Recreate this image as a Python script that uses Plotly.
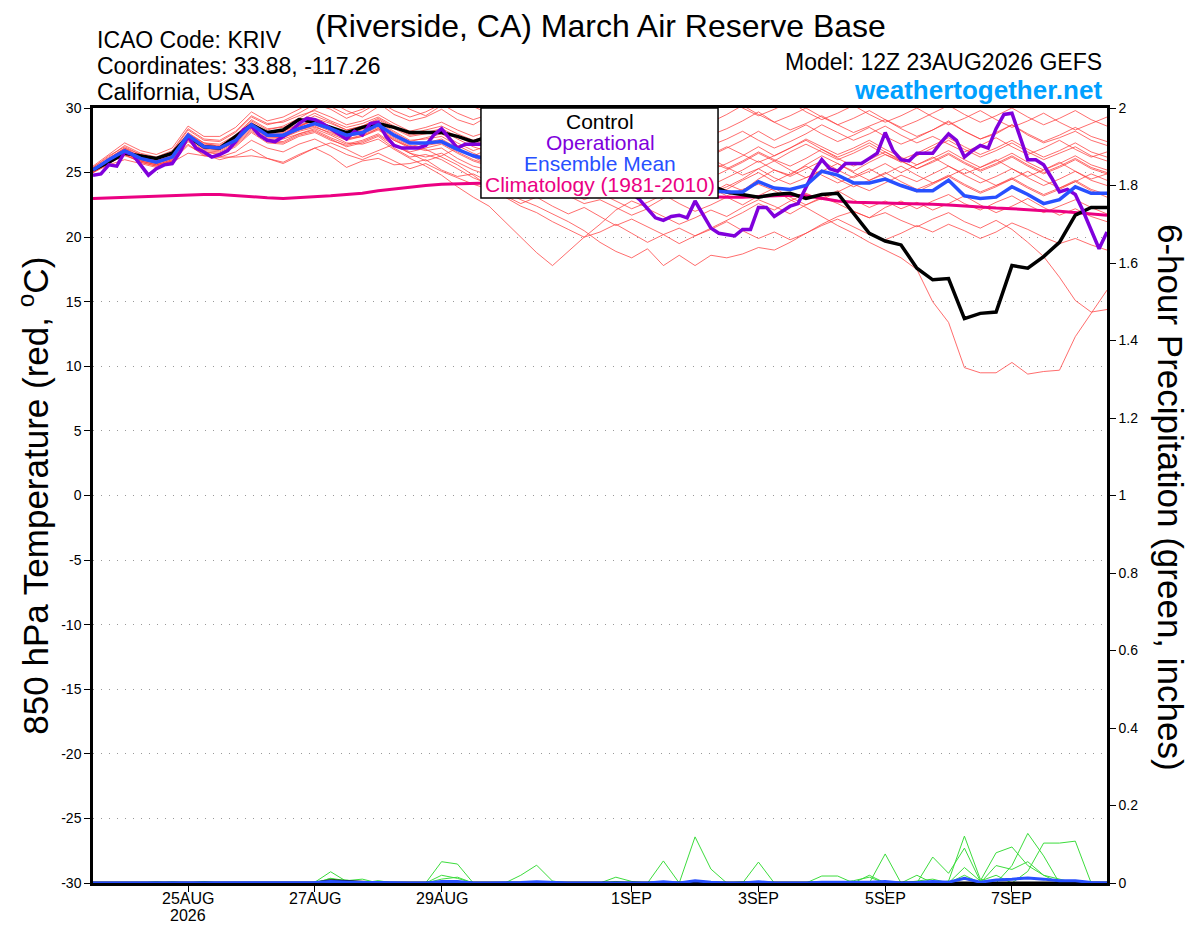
import pandas as pd
import plotly.graph_objects as go

FONT = "Liberation Sans, Arial, sans-serif"
RUN_START = "2026-08-23 12:00"
N_6H = 65
N_3H = 129

tick_dates = ["2026-08-25", "2026-08-27", "2026-08-29", "2026-09-01",
              "2026-09-03", "2026-09-05", "2026-09-07"]
tick_text = ["25AUG", "27AUG", "29AUG", "1SEP", "3SEP", "5SEP", "7SEP"]
year_label = "2026"

temp_ticks = [30, 25, 20, 15, 10, 5, 0, -5, -10, -15, -20, -25, -30]
precip_ticks = [0, 0.2, 0.4, 0.6, 0.8, 1, 1.2, 1.4, 1.6, 1.8, 2]

# 850 hPa temperature (C), 6-hourly
control_t850 = [
    25.2, 25.8, 26.5, 26.3, 26.1, 26.5, 27.8, 27.0, 26.9, 27.8, 28.7, 28.1, 28.3,
    29.1, 28.9, 28.5, 28.1, 28.5, 28.8, 28.5, 28.1, 28.1, 28.1, 27.8, 27.4, 27.8,
    27.5, 27.2, 26.8, 26.5, 26.1, 25.7, 25.3, 25.0, 24.7, 24.4, 24.6, 24.3, 24.1,
    24.0, 23.5, 23.3, 23.1, 23.3, 23.4, 23.0, 23.3, 23.4, 21.9, 20.3, 19.7, 19.4,
    17.6, 16.7, 16.8, 13.7, 14.1, 14.2, 17.8, 17.6, 18.5, 19.6, 21.7, 22.3, 22.3,
]
mean_t850 = [
    25.2, 26.0, 26.7, 26.1, 25.8, 26.2, 27.9, 27.0, 26.9, 27.5, 28.7, 27.9, 27.9,
    28.4, 28.8, 28.4, 27.9, 28.1, 28.7, 27.9, 27.3, 27.3, 27.4, 26.8, 26.3, 26.0,
    25.8, 25.6, 25.3, 25.0, 24.8, 24.6, 24.3, 24.0, 23.8, 23.9, 23.7, 23.6, 23.8,
    23.6, 23.5, 23.5, 24.3, 23.8, 23.7, 24.0, 25.1, 24.8, 24.2, 24.2, 24.5, 24.0,
    23.6, 23.6, 24.4, 23.2, 23.0, 23.1, 23.9, 23.3, 22.6, 22.9, 23.9, 23.4, 23.4,
]
clim_t850 = [
    23.0, 23.05, 23.1, 23.1, 23.15, 23.2, 23.25, 23.3, 23.3, 23.2, 23.1, 23.05, 23.0,
    23.05, 23.1, 23.2, 23.3, 23.4, 23.6, 23.75, 23.9, 24.0, 24.1, 24.15, 24.2, 24.2,
    24.15, 24.1, 24.0, 23.9, 23.8, 23.7, 23.6, 23.5, 23.4, 23.3, 23.25, 23.2, 23.15,
    23.1, 23.1, 23.1, 23.15, 23.2, 23.25, 23.2, 23.0, 22.8, 22.7, 22.7, 22.65, 22.6,
    22.6, 22.55, 22.5, 22.4, 22.3, 22.25, 22.2, 22.1, 22.05, 22.0, 21.9, 21.8, 21.7,
]

# operational run, 3-hourly
oper_t850 = [
    24.8, 24.9, 25.6, 25.5, 26.6, 26.4, 25.6, 24.8,
    25.3, 25.6, 25.7, 26.6, 27.8, 26.9, 26.6, 26.2,
    26.4, 26.7, 27.4, 28.3, 28.6, 27.9, 27.5, 27.4,
    27.8, 28.2, 28.8, 29.2, 29.1, 28.8, 28.4, 28.0,
    27.6, 28.2, 27.9, 28.8, 28.9, 27.8, 27.1, 26.9,
    26.9, 26.9, 27.1, 27.9, 28.4, 27.6, 26.9, 27.2,
    27.2, 27.2, 27.0, 26.8, 27.1, 26.6, 26.3, 26.5,
    26.0, 25.7, 25.9, 25.4, 25.0, 25.2, 24.8, 24.5,
    24.6, 24.1, 23.8, 23.9, 23.4, 22.9, 22.2, 21.5,
    21.3, 21.6, 21.7, 21.5, 22.8, 21.7, 20.7, 20.3,
    20.2, 20.1, 20.6, 20.6, 22.3, 22.3, 21.6, 22.0,
    22.4, 22.6, 23.9, 25.1, 26.0, 25.3, 25.1, 25.7,
    25.7, 25.7, 26.1, 26.5, 28.1, 26.7, 26.0, 25.9,
    26.5, 26.5, 26.5, 27.3, 28.0, 27.5, 26.2, 26.7,
    27.1, 26.9, 28.4, 29.5, 29.6, 27.8, 26.0, 26.0,
    25.6, 24.6, 23.5, 23.7, 23.3, 22.0, 20.6, 19.1,
    20.4,
]

# ensemble members, 6-hourly
m01 = [
    25.4, 26.3, 27.0, 26.4, 26.1, 26.6, 28.3, 27.5, 27.4, 28.1, 29.3, 28.7, 29.0,
    29.6, 30.3, 29.9, 29.2, 29.7, 30.4, 29.5, 29.0, 29.3, 29.9, 29.1, 28.7, 29.4,
    28.9, 28.3, 29.0, 29.6, 28.8, 28.2, 28.9, 29.5, 28.7, 28.0, 28.5, 29.2, 28.6,
    27.9, 28.4, 29.0, 29.7, 28.9, 28.3, 28.8, 29.4, 28.7, 28.1, 28.6, 29.1, 28.4,
    27.8, 28.3, 29.0, 28.2, 27.6, 28.0, 28.7, 27.9, 27.3, 27.7, 28.2, 27.5, 27.1,
]
m02 = [
    25.2, 26.1, 26.8, 26.2, 25.9, 26.4, 28.0, 27.2, 27.1, 27.8, 29.0, 28.3, 28.6,
    29.2, 29.9, 30.5, 29.8, 29.3, 30.1, 30.6, 29.9, 29.4, 30.2, 30.8, 30.1, 29.6,
    30.3, 30.9, 30.2, 29.5, 30.0, 30.6, 29.8, 29.2, 29.7, 30.3, 29.6, 29.0, 29.5,
    30.1, 30.7, 30.0, 29.4, 29.9, 30.5, 29.7, 29.1, 29.6, 30.2, 29.5, 28.9, 29.4,
    30.0, 29.3, 28.7, 29.2, 29.8, 29.1, 28.5, 29.0, 29.6, 28.9, 28.3, 28.8, 29.3,
]
m03 = [
    25.1, 25.9, 26.6, 26.0, 25.7, 26.1, 27.7, 26.8, 26.7, 27.3, 28.4, 27.6, 27.6,
    28.0, 28.4, 27.9, 27.3, 27.2, 27.6, 26.8, 26.1, 25.5, 24.8, 23.9, 23.1, 22.4,
    21.2, 20.0, 18.8, 17.8, 18.9, 20.0, 21.0, 22.1, 22.8, 22.3, 23.0, 23.6, 23.1,
    23.4, 24.1, 23.6, 24.5, 25.2, 24.8, 25.6, 26.3, 25.7, 25.1, 25.8, 26.4, 25.9,
    25.3, 25.9, 26.5, 25.8, 25.2, 25.7, 26.3, 25.6, 25.0, 25.5, 26.1, 25.4, 25.0,
]
m04 = [
    25.0, 25.8, 26.5, 25.9, 25.6, 26.0, 27.5, 26.6, 26.5, 27.1, 28.2, 27.4, 27.3,
    27.9, 28.2, 27.6, 27.0, 27.3, 27.8, 26.9, 26.2, 26.4, 26.0, 25.3, 24.6, 24.1,
    23.5, 22.9, 22.4, 21.8, 21.2, 20.5, 19.6, 18.9, 18.4, 19.1, 17.8, 18.6, 17.8,
    18.6, 18.4, 18.7, 19.2, 19.0, 19.6, 20.3, 21.0, 21.6, 22.0, 21.5, 22.3, 22.8,
    22.2, 22.8, 23.3, 22.6, 22.1, 22.7, 23.2, 22.5, 21.9, 22.4, 22.9, 22.3, 21.8,
]
m05 = [
    25.3, 26.0, 26.8, 26.2, 25.9, 26.3, 27.9, 27.1, 26.9, 27.6, 28.8, 28.0, 28.1,
    28.6, 29.1, 28.5, 28.0, 28.3, 28.9, 28.2, 27.5, 27.6, 27.8, 27.1, 26.5, 26.0,
    25.4, 24.9, 25.3, 25.8, 24.9, 24.2, 23.8, 24.3, 24.9, 24.1, 23.5, 23.9, 24.4,
    23.8, 23.2, 23.7, 24.1, 23.6, 22.9, 22.3, 21.6, 20.9, 20.3, 19.6, 19.0, 18.4,
    17.5, 15.0, 13.4, 9.9, 9.5, 9.5, 10.3, 9.4, 9.6, 9.7, 12.3, 14.1, 15.9,
]
m06 = [
    25.2, 25.9, 26.6, 26.0, 25.8, 26.2, 27.8, 26.9, 26.8, 27.4, 28.6, 27.8, 27.7,
    28.2, 28.5, 28.1, 27.6, 27.8, 28.4, 27.5, 27.0, 26.7, 26.9, 26.1, 25.5, 25.2,
    24.6, 24.0, 23.5, 23.9, 23.2, 22.6, 22.9, 22.3, 21.7, 22.2, 21.6, 21.0, 21.5,
    22.1, 21.6, 22.3, 22.9, 22.4, 21.8, 22.5, 23.1, 22.6, 22.0, 21.5, 21.9, 21.3,
    20.8, 21.4, 21.9, 21.2, 20.7, 21.3, 20.6, 19.6, 18.5, 16.9, 15.1, 14.2, 14.4,
]
m07 = [
    25.1, 25.7, 26.4, 25.8, 25.5, 25.9, 27.2, 26.3, 26.2, 26.6, 27.5, 26.9, 26.6,
    27.2, 27.6, 27.0, 26.4, 26.0, 26.5, 25.9, 25.3, 25.7, 25.1, 24.6, 24.1, 23.7,
    23.2, 22.6, 23.1, 22.4, 21.8, 22.3, 21.6, 20.9, 21.4, 20.8, 20.2, 20.7, 20.1,
    20.6, 21.2, 20.5, 19.9, 20.4, 19.8, 20.3, 20.9, 21.4, 20.8, 20.2, 19.8, 20.3,
    20.9, 20.4, 21.0, 20.5, 19.9, 20.4, 21.1, 20.6, 20.0, 19.5, 19.9, 19.4, 19.0,
]
m08 = [
    25.3, 26.1, 26.9, 26.4, 26.0, 26.5, 28.1, 27.3, 27.0, 27.7, 28.9, 28.1, 28.2,
    28.7, 29.0, 28.3, 27.8, 28.0, 28.5, 27.7, 27.1, 26.8, 26.2, 25.6, 24.8, 23.9,
    23.1, 22.4, 21.9, 21.2, 20.6, 20.0, 20.4, 21.0, 20.3, 19.6, 20.2, 19.5, 20.1,
    20.7, 21.3, 21.9, 22.6, 22.1, 22.8, 23.4, 22.9, 23.5, 24.1, 23.6, 24.2, 24.8,
    24.3, 24.9, 25.5, 24.8, 24.2, 24.7, 25.3, 24.6, 24.0, 24.5, 25.1, 24.4, 24.0,
]
m09 = [
    25.2, 26.0, 26.7, 26.1, 25.7, 26.2, 27.9, 27.0, 26.8, 27.5, 28.6, 27.8, 27.9,
    28.5, 29.2, 28.8, 28.3, 28.6, 29.1, 28.4, 27.8, 28.0, 28.3, 27.6, 27.0, 26.6,
    26.1, 25.5, 25.9, 26.4, 25.7, 25.1, 25.6, 26.2, 25.4, 24.8, 25.3, 25.9, 25.2,
    24.6, 25.2, 25.8, 26.5, 25.9, 26.6, 27.2, 26.6, 26.0, 26.5, 27.1, 26.4, 25.8,
    26.3, 26.9, 27.5, 26.8, 26.2, 26.7, 27.3, 26.6, 26.0, 26.5, 27.0, 26.3, 25.9,
]
m10 = [
    25.0, 25.7, 26.4, 25.8, 25.5, 25.9, 27.4, 26.6, 26.4, 27.0, 28.1, 27.3, 27.2,
    27.8, 28.1, 27.5, 27.1, 27.4, 27.9, 27.1, 26.5, 26.2, 26.5, 25.8, 25.2, 24.8,
    24.3, 23.7, 24.2, 24.8, 24.1, 23.5, 24.0, 24.6, 23.9, 23.3, 23.8, 24.4, 23.7,
    23.1, 23.7, 24.4, 25.0, 24.3, 24.9, 25.5, 24.8, 24.2, 24.7, 25.3, 24.6, 24.0,
    23.5, 24.1, 24.7, 24.0, 23.4, 23.9, 24.5, 23.8, 23.2, 23.7, 24.3, 23.6, 23.1,
]
m11 = [
    25.4, 26.2, 27.1, 26.5, 26.2, 26.7, 28.4, 27.6, 27.5, 28.2, 29.4, 28.8, 28.9,
    29.4, 29.8, 29.3, 28.7, 29.0, 29.5, 28.8, 28.2, 28.5, 28.9, 28.3, 27.8, 28.2,
    27.6, 27.0, 27.5, 28.1, 27.4, 26.8, 27.3, 27.9, 27.1, 26.5, 27.0, 27.6, 26.9,
    26.3, 26.9, 27.5, 28.2, 27.5, 28.1, 28.7, 28.0, 27.4, 27.9, 28.5, 27.8, 27.2,
    27.7, 28.3, 28.9, 28.2, 27.6, 28.1, 28.7, 28.0, 27.4, 27.9, 28.5, 27.8, 27.4,
]
m12 = [
    25.1, 25.8, 26.5, 25.9, 25.6, 26.0, 27.6, 26.7, 26.6, 27.2, 28.3, 27.5, 27.4,
    28.0, 28.3, 27.7, 27.2, 27.5, 28.0, 27.2, 26.6, 26.9, 27.2, 26.5, 25.9, 25.5,
    25.0, 24.4, 24.9, 25.5, 24.7, 24.0, 24.5, 25.1, 24.3, 23.6, 24.1, 24.7, 24.0,
    23.4, 23.9, 24.5, 25.3, 24.6, 24.1, 24.6, 25.2, 24.5, 23.9, 24.4, 25.0, 24.3,
    23.7, 24.2, 24.8, 24.1, 23.5, 24.0, 24.6, 23.9, 23.3, 23.8, 24.4, 23.7, 23.3,
]
m13 = [
    25.0, 25.6, 26.0, 25.7, 25.4, 25.8, 26.5, 26.3, 26.2, 26.2, 26.3, 26.1, 25.8,
    26.4, 26.9, 26.3, 25.4, 25.9, 26.1, 25.6, 25.7, 26.0, 25.2, 24.7, 24.9, 24.3,
    23.9, 23.2, 23.7, 24.3, 23.6, 22.9, 23.4, 22.8, 22.2, 22.7, 23.3, 22.6, 22.0,
    22.5, 23.1, 22.5, 23.2, 23.8, 23.1, 22.5, 23.0, 23.6, 22.9, 22.3, 22.8, 22.2,
    22.7, 22.1, 22.6, 23.2, 22.5, 21.9, 22.4, 23.0, 22.3, 21.7, 22.2, 21.6, 21.2,
]
m14 = [
    25.3, 26.0, 26.8, 26.3, 26.0, 26.4, 28.0, 27.3, 27.2, 27.9, 29.1, 28.4, 28.5,
    29.0, 29.6, 29.0, 28.5, 28.8, 29.3, 28.6, 28.0, 28.3, 28.6, 28.0, 27.5, 27.9,
    28.4, 27.8, 27.2, 27.7, 28.3, 27.6, 27.0, 27.5, 28.1, 27.3, 26.7, 27.2, 27.8,
    27.1, 27.6, 28.2, 27.5, 26.9, 27.4, 28.0, 28.7, 28.1, 27.5, 28.0, 28.6, 27.9,
    27.3, 27.8, 27.2, 26.6, 27.1, 27.7, 27.0, 26.4, 26.9, 27.5, 26.8, 26.2, 26.6,
]
m15 = [
    25.2, 25.9, 26.6, 26.0, 25.7, 26.1, 27.7, 26.9, 26.8, 27.4, 28.5, 27.7, 27.7,
    28.3, 28.7, 28.2, 27.6, 27.9, 28.4, 27.6, 27.0, 27.3, 27.6, 26.9, 26.3, 26.8,
    26.3, 27.0, 27.6, 26.9, 26.3, 26.8, 27.4, 26.7, 26.1, 26.6, 27.2, 26.5, 25.9,
    26.4, 27.0, 26.4, 25.8, 26.3, 26.9, 27.6, 27.0, 26.4, 26.9, 27.5, 26.8, 26.2,
    25.6, 26.1, 26.7, 26.0, 25.4, 25.9, 26.5, 25.8, 25.2, 25.7, 26.3, 25.6, 25.2,
]
m16 = [
    25.5, 26.4, 27.3, 26.7, 26.4, 26.9, 28.6, 27.8, 27.8, 28.5, 29.7, 29.0, 29.3,
    29.9, 30.6, 30.1, 29.5, 29.9, 30.5, 29.8, 29.3, 29.7, 30.3, 29.6, 29.1, 29.5,
    29.0, 28.4, 28.9, 29.5, 28.8, 28.2, 28.7, 29.3, 28.5, 27.9, 28.4, 29.0, 28.3,
    28.9, 29.5, 30.2, 29.5, 28.9, 29.4, 30.0, 29.3, 28.7, 29.2, 29.8, 29.1, 28.5,
    29.0, 29.6, 30.2, 29.5, 28.9, 29.4, 30.0, 29.3, 28.7, 29.2, 29.8, 29.1, 28.6,
]
m17 = [
    25.1, 25.8, 26.3, 25.9, 25.6, 25.9, 27.1, 26.4, 26.0, 26.3, 26.8, 26.1, 25.7,
    26.3, 26.9, 27.3, 26.8, 26.2, 26.7, 27.2, 26.5, 25.9, 26.3, 26.9, 26.2, 25.6,
    26.1, 26.7, 26.0, 25.4, 25.9, 26.5, 25.8, 25.2, 25.7, 26.3, 25.6, 25.0, 25.5,
    26.1, 25.4, 24.8, 25.3, 25.9, 25.2, 24.6, 25.1, 25.7, 25.0, 24.4, 24.9, 25.5,
    24.8, 24.2, 24.7, 25.3, 24.6, 24.0, 24.5, 25.1, 24.4, 23.8, 24.3, 24.9, 24.4,
]
m18 = [
    25.2, 26.1, 26.9, 26.2, 25.9, 26.3, 27.9, 27.1, 27.0, 27.6, 28.8, 28.1, 28.2,
    28.8, 29.4, 28.9, 28.3, 28.6, 29.2, 28.5, 27.9, 28.1, 28.4, 27.8, 27.2, 27.6,
    27.1, 26.5, 27.0, 27.6, 26.9, 26.3, 26.8, 27.4, 26.6, 26.0, 26.5, 27.1, 26.4,
    25.8, 25.3, 25.9, 26.6, 26.0, 25.5, 26.1, 26.8, 26.1, 25.5, 26.0, 26.6, 25.9,
    25.3, 25.8, 26.4, 25.7, 25.1, 25.6, 26.2, 25.5, 24.9, 25.4, 26.0, 25.3, 24.9,
]
m19 = [
    25.3, 26.0, 26.7, 26.1, 25.8, 26.2, 27.8, 27.0, 26.9, 27.5, 28.7, 27.9, 28.0,
    28.6, 29.0, 28.4, 27.9, 28.2, 28.8, 28.1, 27.4, 27.7, 28.0, 27.3, 26.7, 27.1,
    26.6, 26.0, 26.5, 27.1, 26.3, 25.7, 26.2, 26.8, 26.0, 25.4, 25.9, 26.5, 25.8,
    25.2, 25.7, 26.3, 27.0, 26.3, 26.9, 27.5, 26.8, 26.2, 26.7, 27.3, 26.6, 26.0,
    26.5, 27.1, 27.7, 27.0, 26.4, 26.9, 27.5, 26.8, 26.2, 26.7, 27.3, 26.6, 26.2,
]
m20 = [
    25.2, 25.9, 26.7, 26.1, 25.8, 26.2, 27.8, 26.9, 26.8, 27.4, 28.6, 27.8, 27.8,
    28.3, 28.6, 28.0, 27.5, 27.8, 28.3, 27.5, 26.9, 27.1, 27.3, 26.6, 26.0, 25.6,
    25.1, 25.6, 26.2, 25.5, 24.9, 25.4, 26.0, 25.3, 24.7, 25.2, 25.8, 25.1, 24.5,
    24.0, 24.6, 25.2, 25.9, 25.2, 24.7, 25.3, 25.9, 25.2, 24.6, 25.1, 25.7, 25.0,
    25.6, 26.2, 25.5, 24.9, 25.4, 26.0, 25.3, 24.7, 25.2, 25.8, 25.1, 24.5, 24.9,
]
member_t850 = [m01, m02, m03, m04, m05, m06, m07, m08, m09, m10,
               m11, m12, m13, m14, m15, m16, m17, m18, m19, m20]

# 6-hour precipitation (inches), 6-hourly
p01 = [
    0, 0, 0, 0, 0, 0, 0, 0, 0, 0, 0, 0, 0,
    0, 0.002, 0.029, 0.004, 0, 0, 0, 0, 0, 0.055, 0.049, 0, 0,
    0, 0, 0, 0, 0, 0, 0, 0, 0, 0, 0, 0, 0.119,
    0.036, 0, 0, 0, 0, 0, 0, 0, 0, 0, 0, 0.075, 0,
    0, 0, 0.005, 0.121, 0.01, 0, 0.045, 0.128, 0.07, 0, 0, 0, 0,
]
p02 = [
    0, 0, 0, 0, 0, 0.003, 0, 0.004, 0, 0, 0, 0, 0,
    0, 0, 0.012, 0.006, 0.01, 0, 0, 0, 0, 0.02, 0.012, 0, 0,
    0, 0.02, 0.046, 0.005, 0, 0, 0, 0, 0, 0, 0.057, 0, 0,
    0, 0, 0, 0.054, 0, 0, 0, 0, 0, 0, 0, 0, 0,
    0, 0.067, 0.025, 0.09, 0.005, 0.078, 0.093, 0.045, 0.02, 0, 0, 0, 0,
]
p03 = [
    0, 0, 0, 0, 0, 0, 0, 0, 0, 0, 0, 0, 0,
    0, 0, 0.005, 0.008, 0, 0.006, 0, 0, 0, 0.01, 0.015, 0, 0,
    0, 0, 0, 0, 0, 0, 0, 0.015, 0.004, 0, 0, 0, 0,
    0, 0, 0, 0, 0, 0, 0, 0.018, 0.018, 0, 0.02, 0, 0,
    0.02, 0, 0, 0.04, 0.005, 0.02, 0, 0.03, 0.103, 0.103, 0.108, 0, 0,
]
p04 = [
    0, 0, 0, 0, 0.003, 0, 0, 0, 0, 0, 0, 0, 0,
    0, 0, 0.012, 0, 0, 0.004, 0, 0, 0, 0, 0, 0, 0,
    0, 0, 0, 0, 0, 0, 0, 0.004, 0, 0, 0, 0, 0,
    0, 0, 0.003, 0, 0, 0, 0, 0, 0, 0.006, 0.015, 0, 0,
    0.005, 0.01, 0, 0.02, 0, 0.045, 0.035, 0.055, 0.02, 0.01, 0, 0, 0,
]
member_precip = [p01, p02, p03, p04]

mean_precip = [
    0, 0, 0, 0, 0, 0.001, 0, 0.001, 0, 0, 0, 0, 0,
    0, 0.001, 0.004, 0.002, 0.001, 0.001, 0, 0, 0, 0.004, 0.004, 0, 0,
    0, 0.001, 0.003, 0.001, 0, 0, 0, 0.001, 0, 0, 0.003, 0, 0.006,
    0.002, 0, 0, 0.003, 0, 0, 0, 0.002, 0.002, 0.001, 0.002, 0.004, 0,
    0.001, 0.004, 0.002, 0.012, 0.002, 0.008, 0.01, 0.013, 0.01, 0.006, 0.006, 0.001, 0,
]
control_precip = [
    0, 0, 0, 0, 0, 0, 0, 0, 0, 0, 0, 0, 0,
    0, 0, 0.006, 0.004, 0.002, 0, 0, 0, 0, 0, 0, 0, 0,
    0, 0, 0, 0, 0, 0, 0, 0, 0, 0, 0, 0, 0,
    0, 0, 0, 0, 0, 0, 0, 0, 0, 0, 0, 0, 0,
    0, 0, 0, 0, 0, 0, 0, 0, 0, 0, 0, 0, 0,
]

RED = "rgba(255,60,60,0.75)"
GREEN = "rgb(60,220,60)"
BLACK = "black"
PURPLE = "rgb(128,0,220)"
BLUE = "rgb(40,80,255)"
MAGENTA = "rgb(235,0,130)"
WEB_BLUE = "rgb(0,160,255)"

times6 = pd.date_range(RUN_START, periods=N_6H, freq="6h")
times3 = pd.date_range(RUN_START, periods=N_3H, freq="3h")

fig = go.Figure()

for member in member_t850:
    fig.add_trace(go.Scatter(x=times6, y=member, mode="lines",
                             line=dict(color=RED, width=1), hoverinfo="skip"))

fig.add_trace(go.Scatter(x=times6, y=clim_t850, mode="lines",
                         line=dict(color=MAGENTA, width=3)))
fig.add_trace(go.Scatter(x=times6, y=control_t850, mode="lines",
                         line=dict(color=BLACK, width=3.5)))
fig.add_trace(go.Scatter(x=times3, y=oper_t850, mode="lines",
                         line=dict(color=PURPLE, width=3.5)))
fig.add_trace(go.Scatter(x=times6, y=mean_t850, mode="lines",
                         line=dict(color=BLUE, width=3.5)))

for member in member_precip:
    fig.add_trace(go.Scatter(x=times6, y=member, mode="lines", yaxis="y2",
                             line=dict(color=GREEN, width=1), hoverinfo="skip"))
fig.add_trace(go.Scatter(x=times6, y=control_precip, mode="lines", yaxis="y2",
                         line=dict(color=BLACK, width=3)))
fig.add_trace(go.Scatter(x=times6, y=mean_precip, mode="lines", yaxis="y2",
                         line=dict(color=BLUE, width=3)))

axis_common = dict(showline=True, linecolor="black", linewidth=2.5, automargin=False,
                   ticks="outside", ticklen=6, tickcolor="black", tickwidth=1,
                   zeroline=False, tickfont=dict(family=FONT, size=14, color="black"))

# page body adds an 8px offset, so the figure is 8px smaller than the window
fig.update_layout(
    width=1192, height=919,
    margin=dict(l=85, r=93, t=100, b=44),
    paper_bgcolor="white", plot_bgcolor="white",
    showlegend=False,
    font=dict(family=FONT, color="black"),
    xaxis=dict(range=[times6[0], times6[-1]], tickvals=tick_dates,
               showticklabels=False, showgrid=False, mirror=True, **axis_common),
    yaxis=dict(range=[-30, 30], tickvals=temp_ticks,
               ticktext=[str(t) for t in temp_ticks],
               showgrid=True, gridcolor="#999999", gridwidth=1, griddash="1px,7px",
               **axis_common),
    yaxis2=dict(range=[0, 2], overlaying="y", side="right", tickvals=precip_ticks,
                ticktext=[f"{p:g}" for p in precip_ticks], showgrid=False, **axis_common),
)

# date labels under the ticks, year under the first one
for date, label in zip(tick_dates, tick_text):
    fig.add_annotation(text=label, x=date, y=-0.0194, xref="x", yref="paper",
                       xanchor="center", yanchor="middle", showarrow=False,
                       font=dict(family=FONT, size=16, color="black"))
fig.add_annotation(text=year_label, x=tick_dates[0], y=-0.0413, xref="x", yref="paper",
                   xanchor="center", yanchor="middle", showarrow=False,
                   font=dict(family=FONT, size=16, color="black"))

# legend box drawn over the lines
fig.add_shape(type="rect", xref="paper", yref="paper",
              x0=0.3826, x1=0.6164, y0=0.8839, y1=1.0,
              fillcolor="white", line=dict(color="black", width=1.5), layer="above")

legend_items = [("Control", BLACK, 0.983), ("Operational", PURPLE, 0.956),
                ("Ensemble Mean", BLUE, 0.929), ("Climatology (1981-2010)", MAGENTA, 0.901)]
for label, color, ypos in legend_items:
    fig.add_annotation(text=label, x=0.5, y=ypos, xref="paper", yref="paper",
                       xanchor="center", yanchor="middle", showarrow=False,
                       font=dict(family=FONT, size=21, color=color))

header = [
    ("ICAO Code: KRIV", 0.002, 1.088, "left", 23, "black"),
    ("Coordinates: 33.88, -117.26", 0.002, 1.054, "left", 23, "black"),
    ("California, USA", 0.002, 1.021, "left", 23, "black"),
    ("Model: 12Z 23AUG2026 GEFS", 0.997, 1.059, "right", 23, "black"),
    ("<b>weathertogether.net</b>", 0.997, 1.0235, "right", 26, WEB_BLUE),
]
for text, x, y, anchor, size, color in header:
    fig.add_annotation(text=text, x=x, y=y, xref="paper", yref="paper",
                       xanchor=anchor, yanchor="middle", showarrow=False,
                       font=dict(family=FONT, size=size, color=color))

# title sits at the very top of the figure
fig.add_annotation(text="(Riverside, CA) March Air Reserve Base", x=0.5, y=1.131,
                   xref="paper", yref="paper", xanchor="center", yanchor="top",
                   showarrow=False, font=dict(family=FONT, size=32, color="black"))

fig.add_annotation(text="850 hPa Temperature (red, <sup>o</sup>C)", textangle=-90,
                   x=-0.059, y=0.5, xref="paper", yref="paper", showarrow=False,
                   xanchor="center", yanchor="middle",
                   font=dict(family=FONT, size=35, color="black"))
fig.add_annotation(text="6-hour Precipitation (green, inches)", textangle=90,
                   x=1.062, y=0.497, xref="paper", yref="paper", showarrow=False,
                   xanchor="center", yanchor="middle",
                   font=dict(family=FONT, size=35, color="black"))

fig.write_html("out.html")
